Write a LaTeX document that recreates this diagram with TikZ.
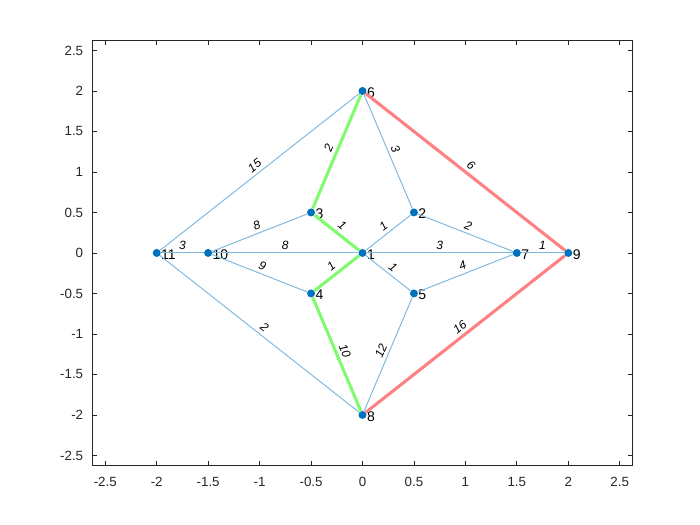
\documentclass[tikz,border=0pt]{standalone}
\usepackage{fontspec}
\setmainfont{Liberation Sans}
\definecolor{nodeblue}{RGB}{0,114,189}
\definecolor{edgeblue}{RGB}{128,185,222}
\definecolor{pathgreen}{RGB}{128,250,110}
\definecolor{pathred}{RGB}{255,128,128}
\definecolor{axisgray}{RGB}{38,38,38}

\begin{document}
\begin{tikzpicture}[x=77.175pt, y=60.75pt,
  edge/.style={draw=edgeblue, line width=0.75pt},
  greenedge/.style={draw=pathgreen, line width=2.3pt},
  rededge/.style={draw=pathred, line width=2.3pt},
  wt/.style={midway, sloped, above=0.8pt, inner sep=1.6pt, text=black,
    font=\fontsize{9}{9}\selectfont\itshape},
  vert/.style={circle, fill=nodeblue, inner sep=0pt, minimum size=6pt,
    label distance=3.4pt},
  lbl/.style={inner sep=0pt, yshift=-1pt, font=\fontsize{10.5}{10.5}\selectfont}]
  \useasboundingbox (-3.523,-3.358) rectangle (3.280,3.123);

  \draw[axisgray, line width=0.6pt] (-2.625,-2.625) rectangle (2.625,2.625);
  \foreach \t [count=\i] in {-2.5,-2,-1.5,-1,-0.5,0,0.5,1,1.5,2,2.5} {
    \draw[axisgray, line width=0.6pt] (\t,-2.625) -- ++(0,3.75pt);
    \draw[axisgray, line width=0.6pt] (\t,2.625) -- ++(0,-3.75pt);
    \draw[axisgray, line width=0.6pt] (-2.625,\t) -- ++(3.75pt,0);
    \draw[axisgray, line width=0.6pt] (2.625,\t) -- ++(-3.75pt,0);
    \node[anchor=north, inner sep=0pt, yshift=-8.25pt, text=axisgray] (xt\i) at (\t,-2.625) {\t};
    \node[anchor=east, inner sep=0pt, xshift=-6.75pt, text=axisgray] (yt\i) at (-2.625,\t) {\t};
  }

  \foreach \n/\x/\y in {1/0/0, 2/0.5/0.5, 3/-0.5/0.5, 4/-0.5/-0.5, 5/0.5/-0.5,
    6/0/2, 7/1.5/0, 8/0/-2, 9/2/0, 10/-1.5/0, 11/-2/0}
    \node[vert, label={[lbl]right:\n}] (v\n) at (\x,\y) {};

  \foreach \a/\b/\w in {1/2/1, 1/5/1, 1/7/3, 1/10/8, 2/6/3, 2/7/2, 3/10/8,
    4/10/9, 5/7/4, 5/8/12, 6/11/15, 7/9/1, 8/11/2, 10/11/3}
    \draw[edge] (v\a) -- (v\b) node[wt] {\w};
  \foreach \a/\b/\w in {3/6/2, 1/3/1, 1/4/1, 4/8/10}
    \draw[greenedge] (v\a) -- (v\b) node[wt] {\w};
  \foreach \a/\b/\w in {6/9/6, 8/9/16}
    \draw[rededge] (v\a) -- (v\b) node[wt] {\w};
\end{tikzpicture}
\end{document}
